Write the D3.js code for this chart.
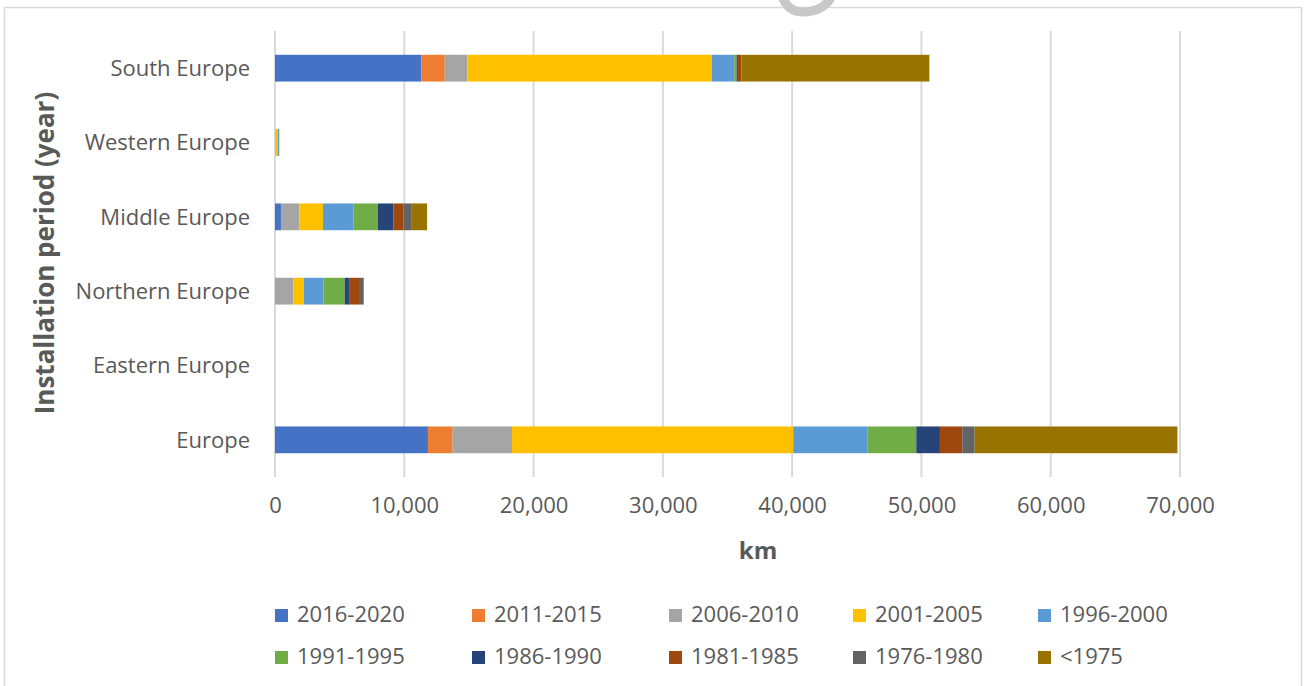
<!DOCTYPE html>
<html>
<head>
<meta charset="utf-8">
<script src="https://cdn.jsdelivr.net/npm/d3@7"></script>
<style>
  body { margin: 0; background: #fff; }
  text { font-family: "Open Sans", sans-serif; fill: #595959; }
</style>
</head>
<body>
<div id="chart"></div>
<script>
// regions, top to bottom as shown
const regions = ["South Europe", "Western Europe", "Middle Europe", "Northern Europe", "Eastern Europe", "Europe"];

const periods = ["2016-2020", "2011-2015", "2006-2010", "2001-2005", "1996-2000",
                 "1991-1995", "1986-1990", "1981-1985", "1976-1980", "<1975"];

// km per region (same order as regions) for each period
const p2016 = [11320, 0, 460, 0, 0, 11830];
const p2011 = [1810, 0, 0, 0, 0, 1910];
const p2006 = [1750, 0, 1420, 1420, 0, 4590];
const p2001 = [18920, 230, 1830, 800, 0, 21750];
const p1996 = [1720, 100, 2370, 1520, 0, 5730];
const p1991 = [185, 0, 1880, 1650, 0, 3790];
const p1986 = [100, 0, 1210, 390, 0, 1830];
const p1981 = [270, 0, 770, 720, 0, 1730];
const p1976 = [40, 0, 640, 360, 0, 960];
const pPre1975 = [14500, 0, 1180, 0, 0, 15680];

const xTicks = [0, 10000, 20000, 30000, 40000, 50000, 60000, 70000];

const seriesValues = [p2016, p2011, p2006, p2001, p1996, p1991, p1986, p1981, p1976, pPre1975];

const colors = ["#4472C4", "#ED7D31", "#A5A5A5", "#FFC000", "#5B9BD5",
                "#70AD47", "#264478", "#9E480E", "#636363", "#997300"];

const W = 1304, H = 686;

// build rows for d3.stack
const rows = regions.map((r, i) => {
  const row = { region: r };
  periods.forEach((p, j) => { row[p] = seriesValues[j][i]; });
  return row;
});

const svg = d3.select("#chart").append("svg")
  .attr("width", W)
  .attr("height", H);

// outer frame
svg.append("rect")
  .attr("x", 4.5).attr("y", 7.5)
  .attr("width", 1297).attr("height", 700)
  .attr("fill", "none")
  .attr("stroke", "#d9d9d9")
  .attr("stroke-width", 1.5);

// bit of a watermark peeking in at the top
svg.append("path")
  .attr("d", "M782,-4 Q788,13 805,12 Q824,11 832,-4")
  .attr("fill", "none")
  .attr("stroke", "#c8c8c8")
  .attr("stroke-width", 9);

const x = d3.scaleLinear().domain([0, 70000]).range([275, 1180]);
const y = d3.scaleBand().domain(regions).range([31, 477])
  .paddingInner(0.64).paddingOuter(0.32);

// gridlines
svg.append("g")
  .selectAll("line")
  .data(xTicks)
  .join("line")
  .attr("x1", d => x(d)).attr("x2", d => x(d))
  .attr("y1", 31).attr("y2", 477)
  .attr("stroke", "#d9d9d9")
  .attr("stroke-width", 2);

const stack = d3.stack().keys(periods);
const stacked = stack(rows);

svg.append("g")
  .selectAll("g")
  .data(stacked)
  .join("g")
  .attr("fill", (d, i) => colors[i])
  .selectAll("rect")
  .data(d => d)
  .join("rect")
  .attr("x", d => x(d[0]))
  .attr("width", d => x(d[1]) - x(d[0]))
  .attr("y", d => y(d.data.region))
  .attr("height", y.bandwidth());

// x axis labels
const gx = svg.append("g")
  .attr("transform", "translate(0,496)")
  .call(d3.axisBottom(x).tickValues(xTicks).tickSize(0).tickPadding(0)
    .tickFormat(d3.format(",")))
  .call(g => g.select(".domain").remove());
gx.selectAll(".tick text")
  .attr("y", 0).attr("dy", "0.75em")
  .style("font-size", "22px")
  .style("fill", "#595959");

// y axis labels
const gy = svg.append("g")
  .attr("transform", "translate(250,0)")
  .call(d3.axisLeft(y).tickSize(0).tickPadding(0))
  .call(g => g.select(".domain").remove());
gy.selectAll(".tick text")
  .style("font-size", "22px")
  .style("fill", "#595959")
  .attr("dy", "0.36em");

// axis titles
svg.append("text")
  .attr("x", 758).attr("y", 559)
  .attr("text-anchor", "middle")
  .style("font-size", "24px")
  .style("font-weight", "bold")
  .text("km");

svg.append("text")
  .attr("transform", "translate(54,253) rotate(-90)")
  .attr("text-anchor", "middle")
  .style("font-size", "26px")
  .style("font-weight", "bold")
  .text("Installation period (year)");

// legend, two rows of five
const legendCols = [275, 472, 669, 853, 1038];
const legendRows = [609, 651];
const legend = svg.append("g")
  .selectAll("g")
  .data(periods)
  .join("g")
  .attr("transform", (d, i) => `translate(${legendCols[i % 5]},${legendRows[Math.floor(i / 5)]})`);

legend.append("rect")
  .attr("width", 13).attr("height", 13)
  .attr("fill", (d, i) => colors[i]);

legend.append("text")
  .attr("x", 22).attr("y", 13)
  .style("font-size", "22px")
  .text(d => d);
</script>
</body>
</html>
